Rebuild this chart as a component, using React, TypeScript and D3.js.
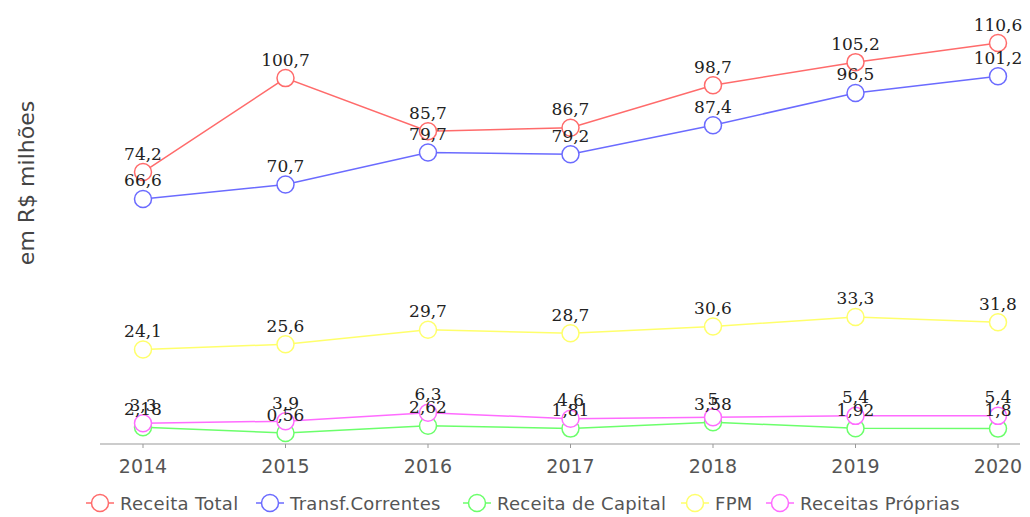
import React from "react";
import * as d3 from "d3";

const years = ["2014", "2015", "2016", "2017", "2018", "2019", "2020"];
const receitaTotal = [74.2, 100.7, 85.7, 86.7, 98.7, 105.2, 110.6];
const transfCorrentes = [66.6, 70.7, 79.7, 79.2, 87.4, 96.5, 101.2];
const receitaCapital = [2.18, 0.56, 2.62, 1.81, 3.58, 1.92, 1.8];
const fpm = [24.1, 25.6, 29.7, 28.7, 30.6, 33.3, 31.8];
const receitasProprias = [3.3, 3.9, 6.3, 4.6, 5, 5.4, 5.4];

const seriesNames = ["Receita Total", "Transf.Correntes", "Receita de Capital", "FPM", "Receitas Próprias"];
const seriesColors = ["#ff6b6b", "#6b6bff", "#6bff6b", "#ffff6b", "#ff6bff"];
const seriesValues = [receitaTotal, transfCorrentes, receitaCapital, fpm, receitasProprias];

const fmt = (v: number) => String(v).replace(".", ",");

export default function App() {
  const W = 1030, H = 517;
  const x = d3.scalePoint<string>().domain(years).range([143, 998]);
  const y = d3.scaleLinear().domain([0, 110.6]).range([435, 43]);
  const axisY = 444;
  const line = d3.line<number>().x((_, i) => x(years[i])!).y((d) => y(d));
  const legendX = [100, 270, 477, 695, 780];
  const legendY = 503;
  return (
    <svg width={W} height={H} style={{ position: "absolute", left: 0, top: 0, background: "#fff" }}>
      <text
        transform={`translate(34,183) rotate(-90)`}
        textAnchor="middle"
        fontFamily="DejaVu Sans"
        fontSize={22}
        fill="#444"
      >
        em R$ milhões
      </text>
      <line x1={100} x2={1020} y1={axisY} y2={axisY} stroke="#999" strokeWidth={1} />
      {years.map((yr) => (
        <g key={yr}>
          <line x1={x(yr)} x2={x(yr)} y1={axisY} y2={axisY + 4} stroke="#999" />
          <text x={x(yr)} y={axisY + 29} textAnchor="middle" fontFamily="DejaVu Sans" fontSize={19} fill="#555">
            {yr}
          </text>
        </g>
      ))}
      {seriesValues.map((vals, si) => (
        <g key={si}>
          <path d={line(vals)!} fill="none" stroke={seriesColors[si]} strokeWidth={1.5} />
          {vals.map((v, i) => (
            <circle key={i} cx={x(years[i])} cy={y(v)} r={8.5} fill="#fff" stroke={seriesColors[si]} strokeWidth={1.5} />
          ))}
        </g>
      ))}
      {seriesValues.map((vals, si) => (
        <g key={"l" + si}>
          {vals.map((v, i) => (
            <text key={i} x={x(years[i])} y={y(v) - 12.5} textAnchor="middle" fontFamily="DejaVu Serif" fontSize={17} fill="#222">
              {fmt(v)}
            </text>
          ))}
        </g>
      ))}
      {seriesNames.map((name, si) => (
        <g key={name}>
          <line x1={legendX[si] - 14} x2={legendX[si] + 14} y1={legendY} y2={legendY} stroke={seriesColors[si]} strokeWidth={1.5} />
          <circle cx={legendX[si]} cy={legendY} r={8.5} fill="#fff" stroke={seriesColors[si]} strokeWidth={1.5} />
          <text x={legendX[si] + 20} y={legendY + 6.5} fontFamily="DejaVu Sans" fontSize={18} fill="#555" letterSpacing={0.3}>
            {name}
          </text>
        </g>
      ))}
    </svg>
  );
}
